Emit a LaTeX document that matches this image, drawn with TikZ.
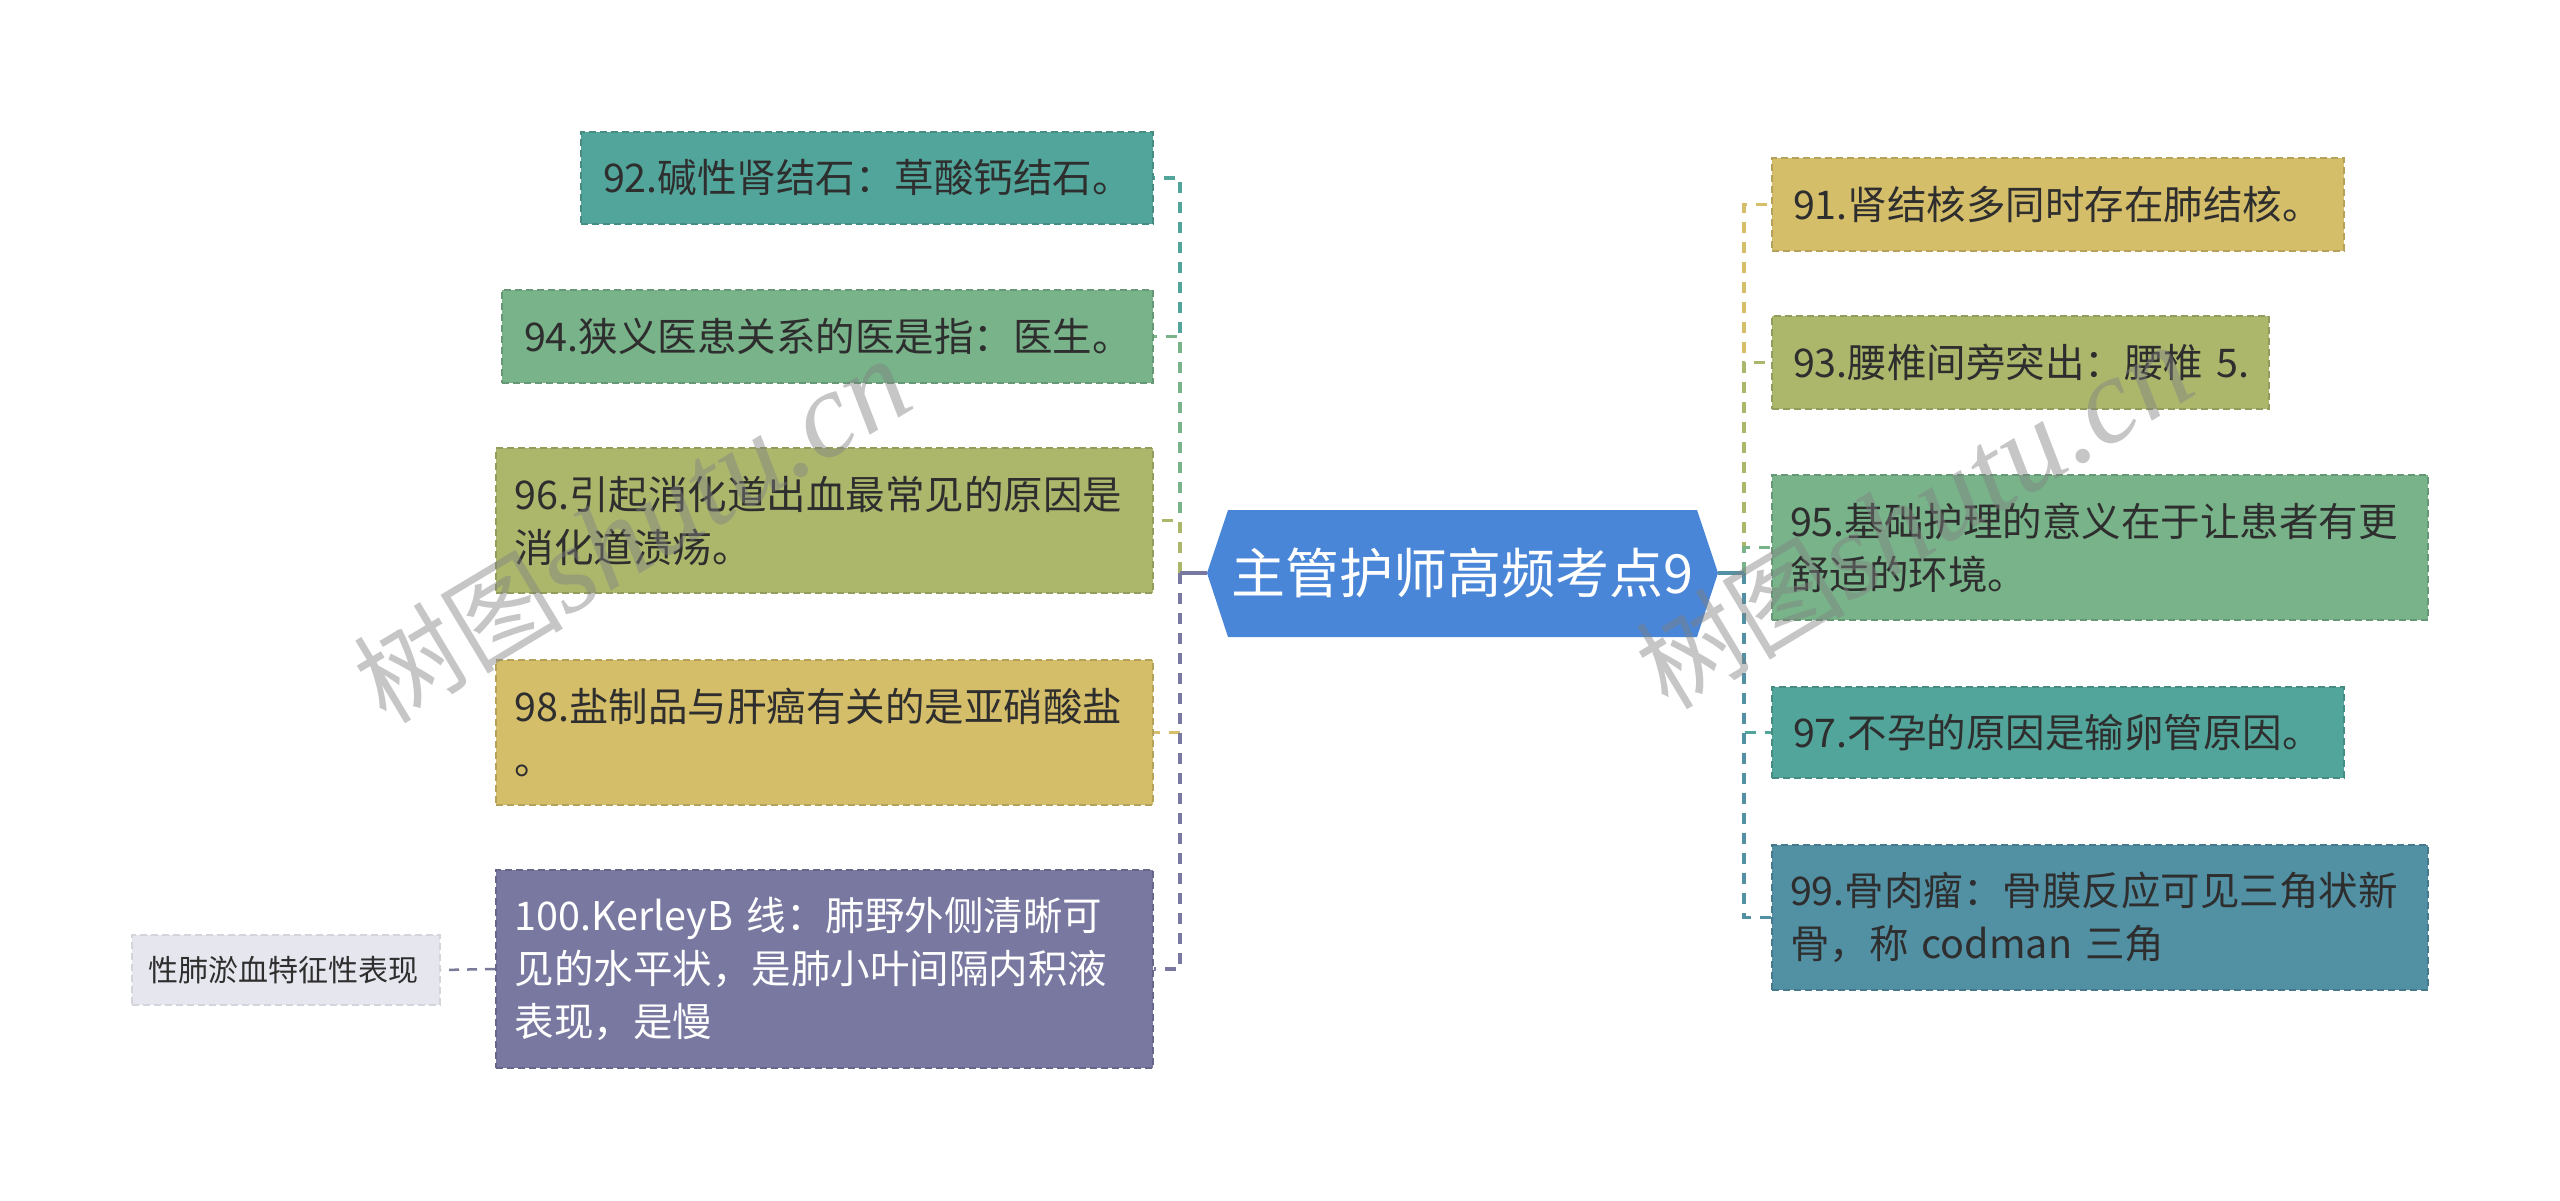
\documentclass[tikz,border=0pt]{standalone}
\usepackage{fontspec}
\newfontfamily\cjk{Noto Sans CJK SC}
\newfontfamily\wmserif{Liberation Serif}
\definecolor{cTeal}{HTML}{52A59A}
\definecolor{cGreen}{HTML}{78B38A}
\definecolor{cOlive}{HTML}{ACB76C}
\definecolor{cYellow}{HTML}{D4BE6A}
\definecolor{cPurple}{HTML}{7878A0}
\definecolor{cBlue}{HTML}{5290A4}
\definecolor{cCenter}{HTML}{4A86D8}
\definecolor{cSmall}{HTML}{E6E6EE}
\definecolor{cText}{HTML}{2E2E2E}
\tikzset{
  topic/.style={rectangle, fill=#1, draw=#1!85!black, dash pattern=on 7pt off 4pt,
    line width=2pt, inner xsep=22pt, inner ysep=0pt, align=left, text=cText,
    font=\cjk\fontsize{39.5}{53}\selectfont},
  link/.style={draw=#1, line width=3.5pt, dash pattern=on 11pt off 9pt},
  trunk/.style={draw=#1, line width=3.5pt},
  wmark/.style={rotate=31, text=black!50, opacity=0.45, inner sep=0pt},
}
\begin{document}
\begin{tikzpicture}[x=1pt, y=-1pt]
\useasboundingbox (0,0) rectangle (2560,1201);
% center
\fill[cCenter] (1207,573) -- (1228,510) -- (1697,510) -- (1718,573) -- (1697,637) -- (1228,637) -- cycle;
\node[minimum width=511pt, minimum height=127pt, inner sep=0pt, text=white,
  font=\cjk\fontsize{54}{66}\selectfont] (c) at (1462.5,573) {主管护师高频考点9};
% left nodes
\node[topic=cTeal, text width=528pt, minimum height=92pt] (n92) at (867,178) {92.碱性肾结石：草酸钙结石。};
\node[topic=cGreen, text width=607pt, minimum height=93pt] (n94) at (827.5,336.5) {94.狭义医患关系的医是指：医生。};
\node[topic=cOlive, text width=620pt, minimum height=145pt, inner xsep=18.5pt] (n96) at (824.5,520.5) {96.引起消化道出血最常见的原因是\\消化道溃疡。};
\node[topic=cYellow, text width=620pt, minimum height=145pt, inner xsep=18.5pt] (n98) at (824.5,732.5) {98.盐制品与肝癌有关的是亚硝酸盐\\。};
\node[topic=cPurple, text width=620pt, minimum height=198pt, inner xsep=18.5pt, text=white] (n100) at (824.5,969) {100.KerleyB~线：肺野外侧清晰可\\见的水平状，是肺小叶间隔内积液\\表现，是慢};
\node[topic=cSmall, text width=276pt, minimum height=70pt, inner xsep=16pt, draw=cSmall!92!black,
  font=\cjk\fontsize{30}{40}\selectfont] (s1) at (286,970) {性肺淤血特征性表现};
% right nodes
\node[topic=cYellow, text width=530pt, minimum height=93pt, inner xsep=21pt] (n91) at (2058,204.5) {91.肾结核多同时存在肺结核。};
\node[topic=cOlive, text width=465pt, minimum height=93pt, inner xsep=16pt] (n93) at (2020.5,362.5) {\hspace*{5pt}93.腰椎间旁突出：腰椎~5.};
\node[topic=cGreen, text width=620pt, minimum height=145pt, inner xsep=18pt] (n95) at (2100,547.5) {95.基础护理的意义在于让患者有更\\舒适的环境。};
\node[topic=cTeal, text width=530pt, minimum height=91pt, inner xsep=21pt] (n97) at (2058,732.5) {97.不孕的原因是输卵管原因。};
\node[topic=cBlue, text width=620pt, minimum height=145pt, inner xsep=18pt] (n99) at (2100,917.5) {99.骨肉瘤：骨膜反应可见三角状新\\骨，称~codman~三角};
% connectors
\coordinate (jl) at (1180,573);
\coordinate (jr) at (1744,573);
\draw[link=cTeal] (jl) |- (n92.east);
\draw[link=cGreen] (jl) |- (n94.east);
\draw[link=cOlive] (jl) |- (n96.east);
\draw[link=cYellow] (jl) |- (n98.east);
\draw[link=cPurple] (jl) |- (n100.east);
\draw[trunk=cPurple] (c.west) -- (jl);
\draw[link=cYellow] (jr) |- (n91.west);
\draw[link=cOlive] (jr) |- (n93.west);
\draw[link=cGreen] (jr) |- (n95.west);
\draw[link=cTeal] (jr) |- (n97.west);
\draw[link=cBlue] (jr) |- (n99.west);
\draw[trunk=cBlue] (c.east) -- (jr);
\draw[draw=cPurple!80!gray, line width=2.5pt, dash pattern=on 10pt off 8pt] (n100.west) -- (s1.east);
% watermarks
\node[wmark] (w1) at (632,532) {\cjk\fontsize{105}{110}\selectfont 树图{\wmserif\itshape\fontsize{122}{122}\selectfont shutu.cn}};
\node[wmark] (w2) at (1914,518) {\cjk\fontsize{105}{110}\selectfont 树图{\wmserif\itshape\fontsize{122}{122}\selectfont shutu.cn}};
\end{tikzpicture}
\end{document}
